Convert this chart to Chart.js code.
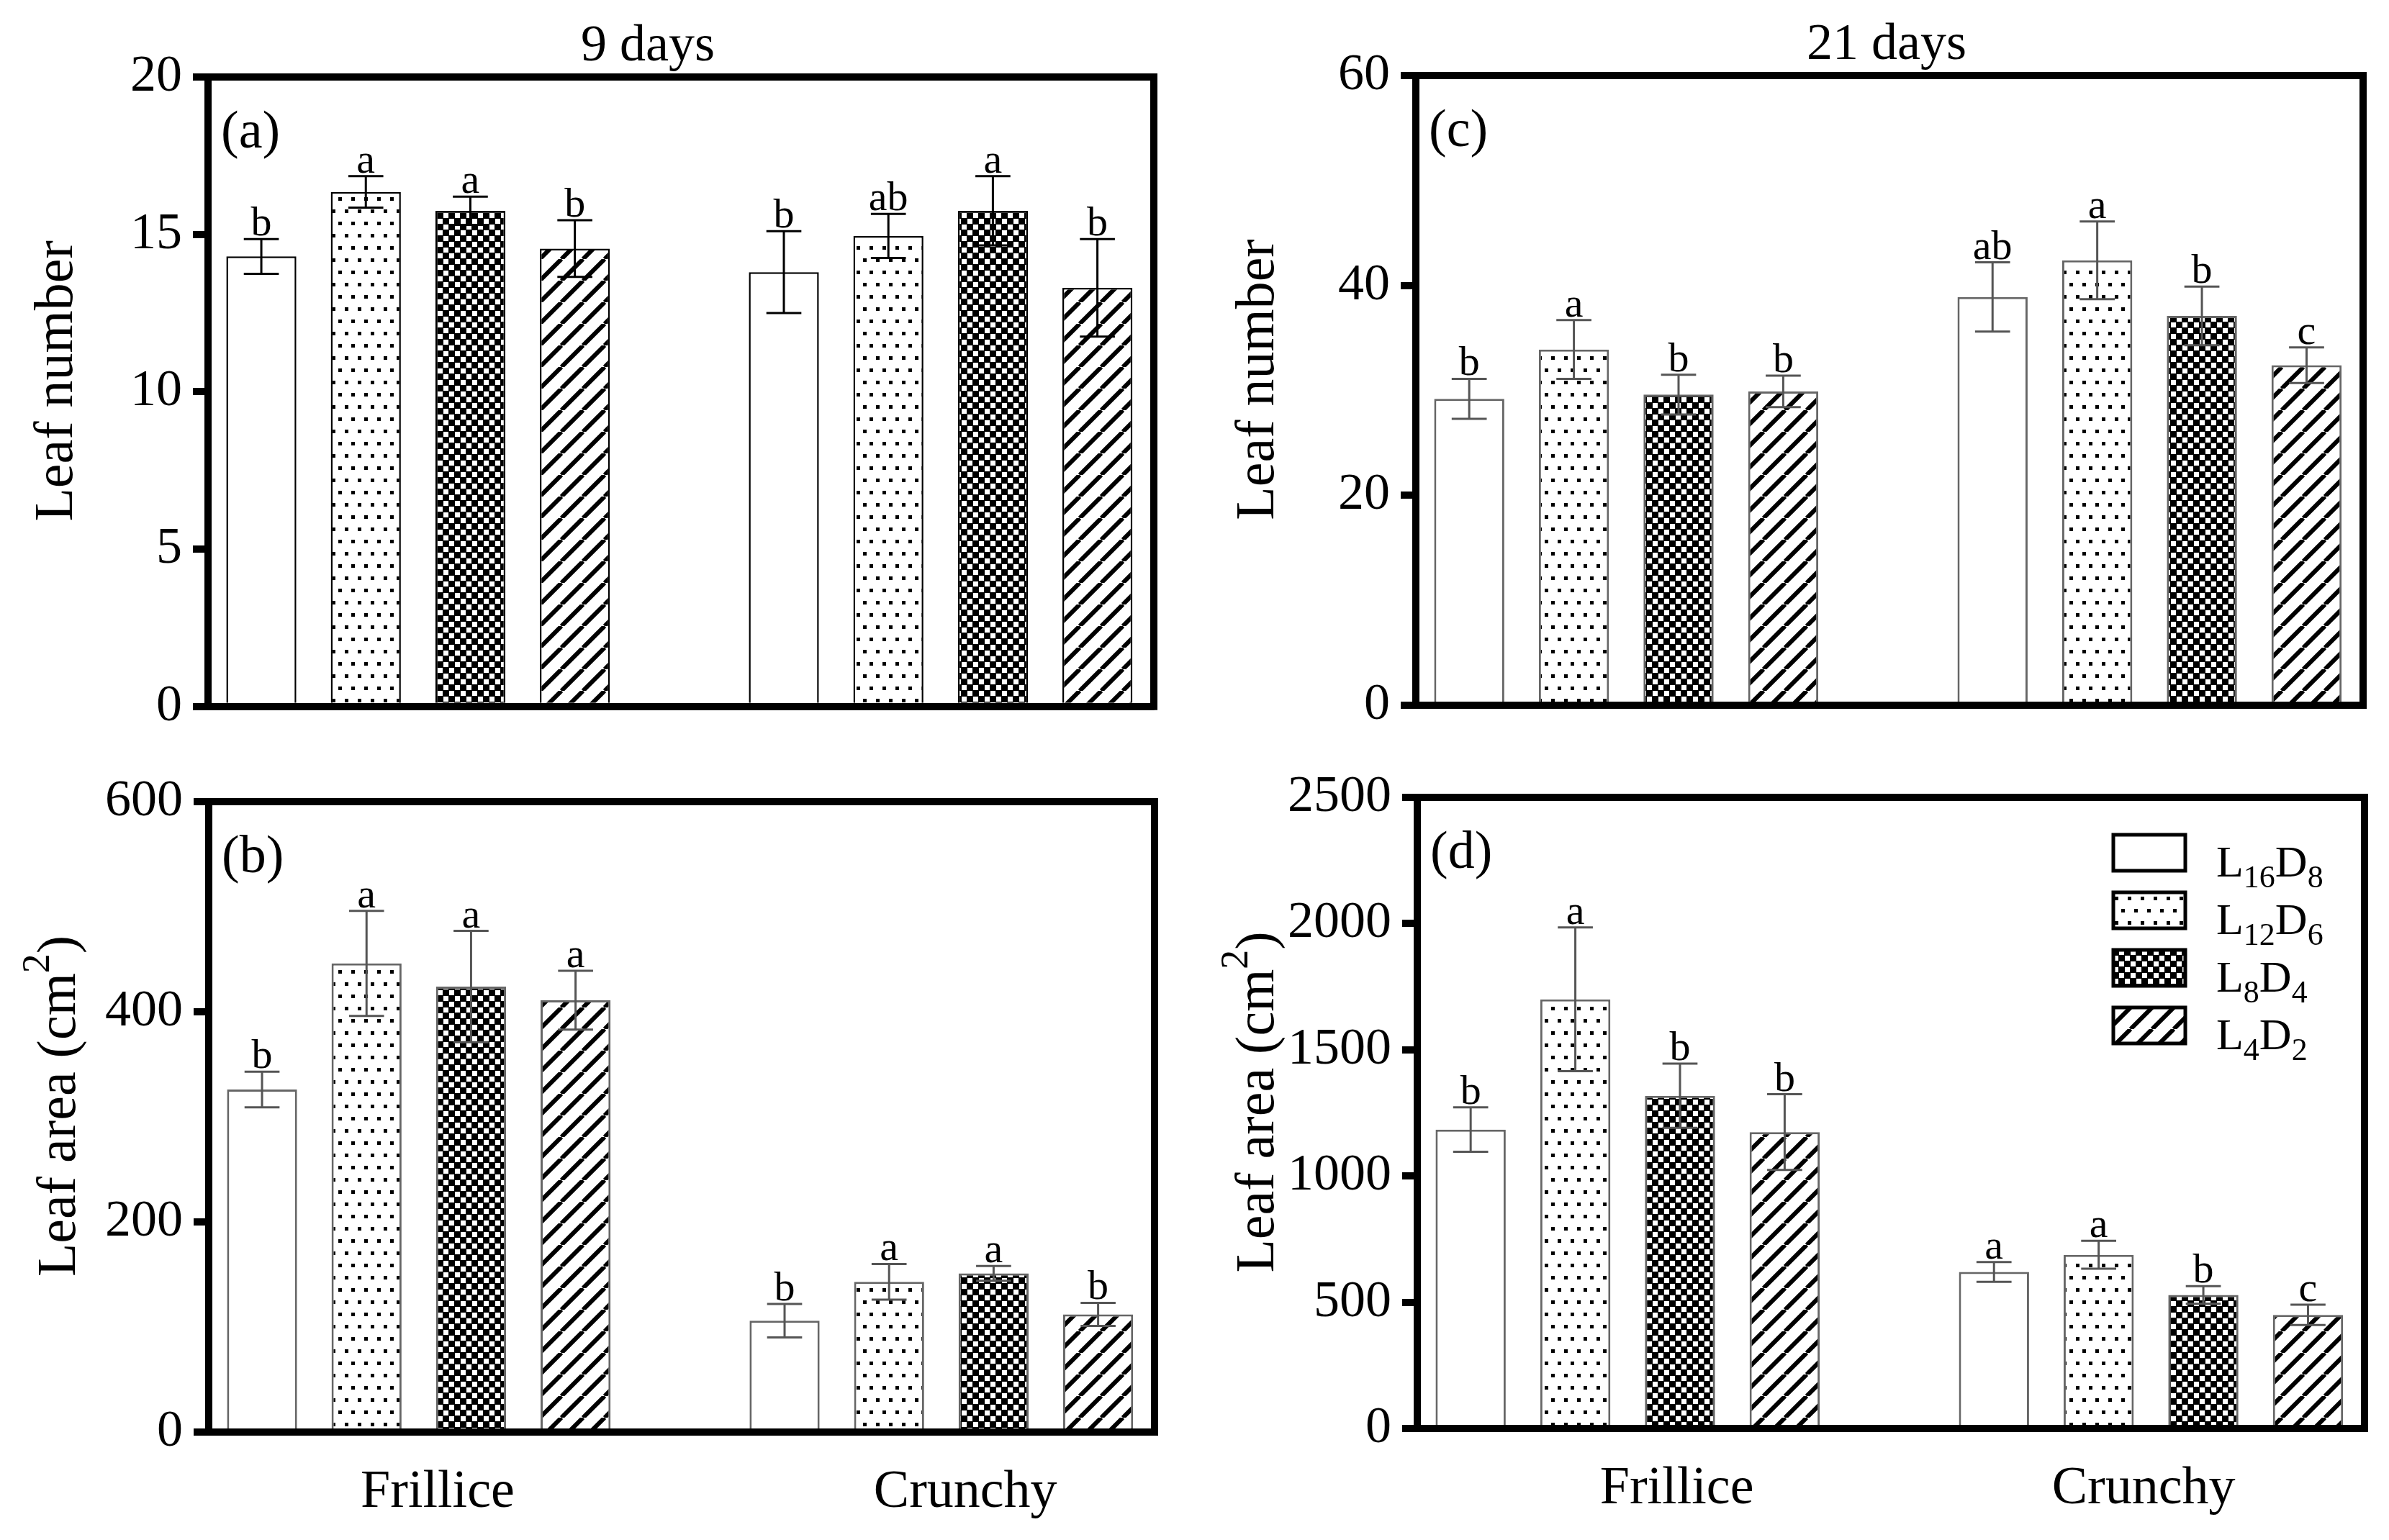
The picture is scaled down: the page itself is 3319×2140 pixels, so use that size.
<!DOCTYPE html>
<html>
<head>
<meta charset="utf-8">
<title>Leaf number and leaf area</title>
<script src="https://cdn.jsdelivr.net/npm/chart.js@4.4.1/dist/chart.umd.min.js"></script>
<style>
  html, body { margin: 0; padding: 0; background: #fff; }
  #wrap { position: relative; width: 3319px; height: 2140px; overflow: hidden; }
  #wrap canvas { position: absolute; }
</style>
</head>
<body>
<div id="wrap">
  <canvas id="panelA" width="1640" height="1040" style="left:0px;top:0px"></canvas>
  <canvas id="panelB" width="1640" height="1100" style="left:0px;top:1040px"></canvas>
  <canvas id="panelC" width="1679" height="1040" style="left:1640px;top:0px"></canvas>
  <canvas id="panelD" width="1679" height="1100" style="left:1640px;top:1040px"></canvas>
</div>
<script>
// --- Data ---
const groups = ['Frillice', 'Crunchy'];
const lightHours = ['16', '12', '8', '4'];
const darkHours = ['8', '6', '4', '2'];

// (a) leaf number, 9 days
const num9Frillice = [14.3, 16.35, 15.75, 14.55];
const num9FrilliceSe = [0.55, 0.5, 0.45, 0.9];
const num9Crunchy = [13.8, 14.95, 15.75, 13.3];
const num9CrunchySe = [1.3, 0.7, 1.1, 1.55];
const num9FrilliceLetters = ['b', 'a', 'a', 'b'];
const num9CrunchyLetters = ['b', 'ab', 'a', 'b'];
const num9Ticks = [0, 5, 10, 15, 20];

// (b) leaf area, 9 days
const area9Frillice = [326, 446, 424, 411];
const area9FrilliceSe = [17, 50, 53, 28];
const area9Crunchy = [106, 143, 151, 112];
const area9CrunchySe = [16, 17, 7, 11];
const area9FrilliceLetters = ['b', 'a', 'a', 'a'];
const area9CrunchyLetters = ['b', 'a', 'a', 'b'];
const area9Ticks = [0, 200, 400, 600];

// (c) leaf number, 21 days
const num21Frillice = [29.2, 33.9, 29.6, 29.9];
const num21FrilliceSe = [1.9, 2.8, 1.9, 1.5];
const num21Crunchy = [38.9, 42.4, 37.1, 32.4];
const num21CrunchySe = [3.3, 3.7, 2.8, 1.7];
const num21FrilliceLetters = ['b', 'a', 'b', 'b'];
const num21CrunchyLetters = ['ab', 'a', 'b', 'c'];
const num21Ticks = [0, 20, 40, 60];

// (d) leaf area, 21 days
const area21Frillice = [1184, 1700, 1318, 1174];
const area21FrilliceSe = [88, 285, 127, 150];
const area21Crunchy = [620, 688, 529, 450];
const area21CrunchySe = [39, 55, 35, 40];
const area21FrilliceLetters = ['b', 'a', 'b', 'b'];
const area21CrunchyLetters = ['a', 'a', 'b', 'c'];
const area21Ticks = [0, 500, 1000, 1500, 2000, 2500];

const FONT = "'Liberation Serif', 'DejaVu Serif', serif";

// --- Fill patterns for the four photoperiods ---
function tile(w, h, paint) {
    const c = document.createElement('canvas');
    c.width = w; c.height = h;
    const g = c.getContext('2d');
    g.fillStyle = '#fff';
    g.fillRect(0, 0, w, h);
    paint(g);
    return g.createPattern(c, 'repeat');
}

const fills = [
    '#ffffff',
    tile(18, 34, g => {            // dots
        g.fillStyle = '#000';
        g.fillRect(2, 2, 5, 5);
        g.fillRect(11, 19, 5, 5);
    }),
    tile(16, 16, g => {            // checker
        g.fillStyle = '#000';
        g.fillRect(0, 0, 16, 16);
        g.fillStyle = '#fff';
        g.fillRect(0, 0, 7, 7);
        g.fillRect(8, 8, 7, 7);
    }),
    tile(30, 30, g => {            // diagonal hatch
        g.strokeStyle = '#000';
        g.lineWidth = 6;
        g.beginPath();
        for (let s = -30; s <= 30; s += 30) {
            g.moveTo(s, 30);
            g.lineTo(s + 30, 0);
        }
        g.stroke();
    })
];

// --- Drawing helpers ---
function drawRun(ctx, parts, x, y) {
    parts.forEach(p => {
        ctx.font = p.font;
        ctx.fillText(p.t, x, y + (p.dy || 0));
        x += ctx.measureText(p.t).width;
    });
}

const decor = {
    id: 'decor',
    afterDatasetsDraw(chart, args, o) {
        const ctx = chart.ctx;
        const yScale = chart.scales.y;
        ctx.save();
        chart.data.datasets.forEach((ds, di) => {
            chart.getDatasetMeta(di).data.forEach((bar, j) => {
                const v = ds.data[j].y, e = ds.errors[j];
                const top = yScale.getPixelForValue(v + e);
                const bot = yScale.getPixelForValue(v - e);
                const cap = bar.width * 0.5;
                ctx.strokeStyle = o.errColor;
                ctx.lineWidth = 3;
                ctx.beginPath();
                ctx.moveTo(bar.x, top); ctx.lineTo(bar.x, bot);
                ctx.moveTo(bar.x - cap / 2, top); ctx.lineTo(bar.x + cap / 2, top);
                ctx.moveTo(bar.x - cap / 2, bot); ctx.lineTo(bar.x + cap / 2, bot);
                ctx.stroke();
                ctx.fillStyle = '#000';
                ctx.font = '58px ' + FONT;
                ctx.textAlign = 'center';
                ctx.textBaseline = 'alphabetic';
                ctx.fillText(ds.letters[j], bar.x, top - 5);
            });
        });
        ctx.restore();
    },
    afterDraw(chart, args, o) {
        const ctx = chart.ctx;
        const a = chart.chartArea;
        ctx.save();
        // top and right frame
        ctx.strokeStyle = '#000';
        ctx.lineWidth = 10;
        ctx.lineCap = 'square';
        ctx.lineJoin = 'miter';
        ctx.beginPath();
        ctx.moveTo(a.left, a.top);
        ctx.lineTo(a.right, a.top);
        ctx.lineTo(a.right, a.bottom);
        ctx.stroke();

        ctx.fillStyle = '#000';
        ctx.textBaseline = 'alphabetic';
        // panel tag
        ctx.textAlign = 'left';
        ctx.font = '74px ' + FONT;
        ctx.fillText(o.tag, a.left + 18, a.top + 98);

        // column title
        if (o.title) {
            ctx.textAlign = 'center';
            ctx.font = '72px ' + FONT;
            ctx.fillText(o.title, a.left + (a.right - a.left) * o.titlePos, o.titleY);
        }

        // y-axis title, rotated
        ctx.save();
        ctx.translate(a.left - o.yTitleGap, (a.top + a.bottom) / 2 - 15);
        ctx.rotate(-Math.PI / 2);
        ctx.textAlign = 'left';
        const parts = o.yTitle.map(p => ({
            t: p.t,
            font: p.sup ? '54px ' + FONT : '76px ' + FONT,
            dy: p.sup ? -36 : 0
        }));
        let total = 0;
        parts.forEach(p => { ctx.font = p.font; total += ctx.measureText(p.t).width; });
        drawRun(ctx, parts, -total / 2, 0);
        ctx.restore();

        // legend
        if (o.legend) {
            const bx = a.right - 349, bw = 100, bh = 50;
            lightHours.forEach((lh, k) => {
                const cy = a.top + 77 + k * 80;
                ctx.fillStyle = fills[k];
                ctx.fillRect(bx, cy - bh / 2, bw, bh);
                ctx.strokeStyle = '#000';
                ctx.lineWidth = 5;
                ctx.strokeRect(bx, cy - bh / 2, bw, bh);
                ctx.fillStyle = '#000';
                ctx.textAlign = 'left';
                const main = '62px ' + FONT, sub = '44px ' + FONT;
                drawRun(ctx, [
                    { t: 'L', font: main },
                    { t: lh, font: sub, dy: 15 },
                    { t: 'D', font: main },
                    { t: darkHours[k], font: sub, dy: 15 }
                ], bx + bw + 43, cy + 33);
            });
        }
        ctx.restore();
    }
};

// --- One panel per canvas ---
function buildPanel(id, p) {
    const canvas = document.getElementById(id);
    const W = canvas.width, H = canvas.height;
    const values = [p.frillice, p.crunchy];
    const errors = [p.frilliceSe, p.crunchySe];
    const letters = [p.frilliceLetters, p.crunchyLetters];

    const datasets = lightHours.map((lh, k) => ({
        label: 'L' + lh + 'D' + darkHours[k],
        data: groups.map((g, gi) => ({ x: gi * 5 + k, y: values[gi][k] })),
        errors: groups.map((g, gi) => errors[gi][k]),
        letters: groups.map((g, gi) => letters[gi][k]),
        backgroundColor: fills[k],
        borderColor: p.edge,
        borderWidth: p.edgeWidth,
        grouped: false,
        barPercentage: 0.67,
        categoryPercentage: 1
    }));

    return new Chart(canvas, {
        type: 'bar',
        data: { datasets },
        plugins: [decor],
        options: {
            responsive: false,
            devicePixelRatio: 1,
            animation: false,
            layout: { padding: { left: 0, top: p.area.top, right: W - p.area.right, bottom: 0 } },
            scales: {
                x: {
                    type: 'linear',
                    bounds: 'data',
                    offset: false,
                    min: -0.51,
                    max: 8.54,
                    afterBuildTicks: s => { s.ticks = p.groupPos.map(v => ({ value: v })); },
                    afterFit: s => { s.height = H - p.area.bottom; },
                    border: { display: true, width: 10, color: '#000', z: 1 },
                    grid: { display: false, drawTicks: false, offset: false },
                    ticks: {
                        display: p.showGroups,
                        autoSkip: false,
                        maxRotation: 0,
                        padding: 40,
                        color: '#000',
                        font: { family: FONT, size: 74 },
                        callback: (v, i) => groups[i]
                    }
                },
                y: {
                    bounds: 'data',
                    min: 0,
                    max: p.ticks[p.ticks.length - 1],
                    afterBuildTicks: s => { s.ticks = p.ticks.map(v => ({ value: v })); },
                    afterFit: s => { s.width = p.area.left; },
                    border: { display: true, width: 10, color: '#000', z: 1 },
                    grid: {
                        drawOnChartArea: false,
                        drawTicks: true,
                        tickLength: 21,
                        tickWidth: 10,
                        tickColor: '#000',
                        color: '#000',
                        lineWidth: 10
                    },
                    ticks: {
                        padding: 15,
                        color: '#000',
                        font: { family: FONT, size: 72 },
                        callback: v => String(v)
                    }
                }
            },
            plugins: {
                legend: { display: false },
                tooltip: { enabled: false },
                decor: {
                    tag: p.tag,
                    title: p.title,
                    titlePos: p.titlePos,
                    titleY: p.titleY,
                    yTitle: p.yTitle,
                    yTitleGap: p.yTitleGap,
                    errColor: p.errColor,
                    legend: p.legend
                }
            }
        }
    });
}

buildPanel('panelA', {
    frillice: num9Frillice, frilliceSe: num9FrilliceSe,
    crunchy: num9Crunchy, crunchySe: num9CrunchySe,
    frilliceLetters: num9FrilliceLetters, crunchyLetters: num9CrunchyLetters,
    ticks: num9Ticks,
    area: { left: 289, right: 1603, top: 107, bottom: 983 },
    groupPos: [1.68, 6.73], showGroups: false,
    tag: '(a)', title: '9 days', titlePos: 0.465, titleY: 84,
    yTitle: [{ t: 'Leaf number' }], yTitleGap: 189,
    edge: '#000', edgeWidth: 2.5, errColor: '#000', legend: false
});

buildPanel('panelB', {
    frillice: area9Frillice, frilliceSe: area9FrilliceSe,
    crunchy: area9Crunchy, crunchySe: area9CrunchySe,
    frilliceLetters: area9FrilliceLetters, crunchyLetters: area9CrunchyLetters,
    ticks: area9Ticks,
    area: { left: 290, right: 1604, top: 74, bottom: 950 },
    groupPos: [1.68, 6.73], showGroups: true,
    tag: '(b)', title: null,
    yTitle: [{ t: 'Leaf area (cm' }, { t: '2', sup: true }, { t: ')' }], yTitleGap: 186,
    edge: '#666', edgeWidth: 3, errColor: '#555', legend: false
});

buildPanel('panelC', {
    frillice: num21Frillice, frilliceSe: num21FrilliceSe,
    crunchy: num21Crunchy, crunchySe: num21CrunchySe,
    frilliceLetters: num21FrilliceLetters, crunchyLetters: num21CrunchyLetters,
    ticks: num21Ticks,
    area: { left: 327, right: 1643, top: 105, bottom: 980 },
    groupPos: [1.97, 6.43], showGroups: false,
    tag: '(c)', title: '21 days', titlePos: 0.497, titleY: 82,
    yTitle: [{ t: 'Leaf number' }], yTitleGap: 198,
    edge: '#666', edgeWidth: 3, errColor: '#555', legend: false
});

buildPanel('panelD', {
    frillice: area21Frillice, frilliceSe: area21FrilliceSe,
    crunchy: area21Crunchy, crunchySe: area21CrunchySe,
    frilliceLetters: area21FrilliceLetters, crunchyLetters: area21CrunchyLetters,
    ticks: area21Ticks,
    area: { left: 329, right: 1645, top: 68, bottom: 945 },
    groupPos: [1.97, 6.43], showGroups: true,
    tag: '(d)', title: null,
    yTitle: [{ t: 'Leaf area (cm' }, { t: '2', sup: true }, { t: ')' }], yTitleGap: 200,
    edge: '#666', edgeWidth: 3, errColor: '#555', legend: true
});
</script>
</body>
</html>
